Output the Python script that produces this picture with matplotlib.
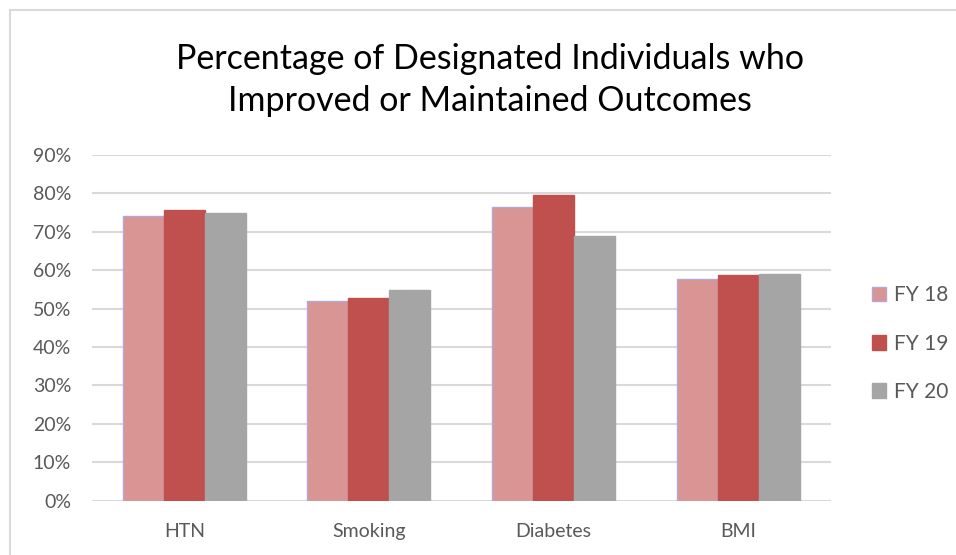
import numpy as np
import matplotlib.pyplot as plt
from matplotlib.patches import Rectangle
from matplotlib.ticker import PercentFormatter

categories = ["HTN", "Smoking", "Diabetes", "BMI"]
series_names = ["FY 18", "FY 19", "FY 20"]
fy18 = [74.1, 52.0, 76.5, 57.8]
fy19 = [75.6, 52.9, 79.6, 58.8]
fy20 = [74.9, 54.9, 68.9, 59.0]
y_ticks = [0, 10, 20, 30, 40, 50, 60, 70, 80, 90]

colors = ["#D99594", "#C0504D", "#A5A5A5"]
edges = ["#B4A7D6", "#C0504D", "#A5A5A5"]
text_gray = "#595959"

plt.rcParams['font.family'] = ['Lato', 'DejaVu Sans']

fig = plt.figure(figsize=(9.56, 5.55), dpi=100)
# outer chart frame, cut off on the right and bottom
fig.patches.append(Rectangle((10 / 956, -0.05), 1.0, 1 - 10 / 555 + 0.05,
                             transform=fig.transFigure, fill=False,
                             edgecolor="#D9D9D9", linewidth=1.5))

ax = fig.add_axes([0.0962, 0.0978, 0.7727, 0.6229])

x = np.arange(len(categories))
width = 0.222
for i, (vals, name) in enumerate(zip([fy18, fy19, fy20], series_names)):
    ax.bar(x + (i - 1) * width, vals, width, color=colors[i],
           edgecolor=edges[i], linewidth=1.0, label=name, zorder=3)

ax.set_xlim(-0.5, len(categories) - 0.5)
ax.set_ylim(0, 90)
ax.set_yticks(y_ticks)
ax.yaxis.set_major_formatter(PercentFormatter(decimals=0))
ax.set_xticks(x)
ax.set_xticklabels(categories)
ax.grid(axis="y", color="#D9D9D9", linewidth=1.5, zorder=0)
ax.tick_params(length=0, labelsize=14, colors=text_gray)
ax.tick_params(axis="x", pad=16)
ax.tick_params(axis="y", pad=15)
for s in ax.spines.values():
    s.set_visible(False)

fig.text(0.513, 0.856, "Percentage of Designated Individuals who\nImproved or Maintained Outcomes",
         ha="center", va="center", fontsize=24.5, color="black", linespacing=1.4)

fig.legend(loc="center left", bbox_to_anchor=(0.912, 0.381), frameon=False,
           fontsize=15, labelcolor=text_gray, handlelength=0.7,
           handleheight=0.7, handletextpad=0.35, labelspacing=1.35,
           borderpad=0, borderaxespad=0)

fig.savefig("out.png", dpi=100)
